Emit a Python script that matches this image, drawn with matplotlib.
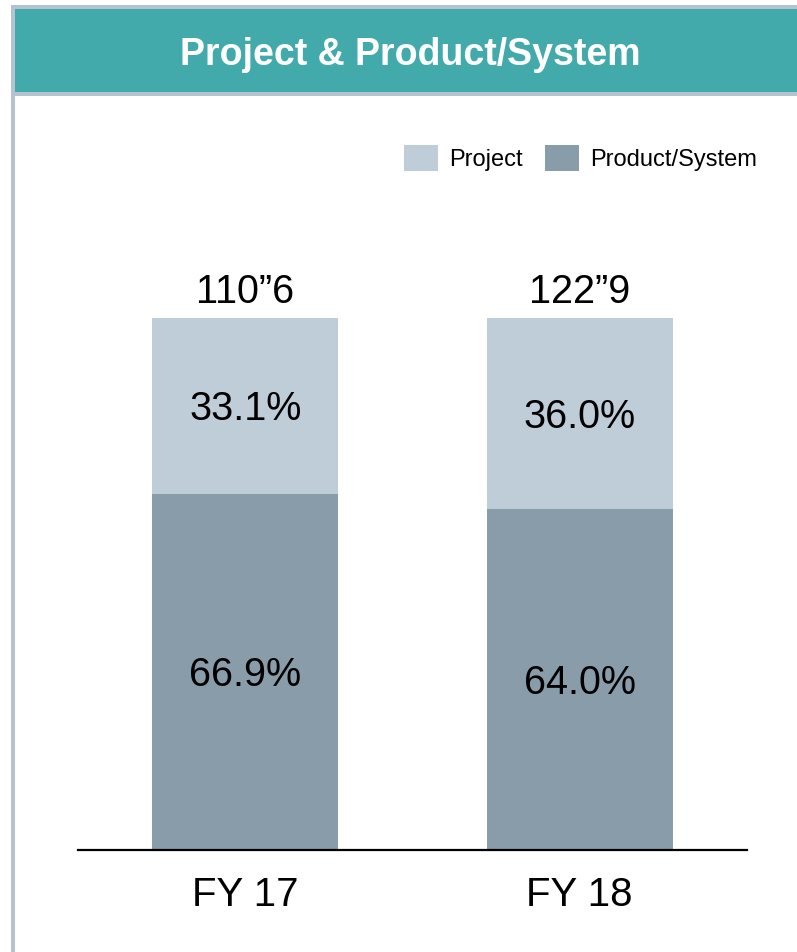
import matplotlib
matplotlib.use("Agg")
import matplotlib.pyplot as plt
from matplotlib.patches import Rectangle, Patch

plt.rcParams['font.family'] = ['Liberation Sans', 'DejaVu Sans']

# ---- data ----
categories = ["FY 17", "FY 18"]
totals = ["110\u201d6", "122\u201d9"]
project_pct = [33.1, 36.0]
product_pct = [66.9, 64.0]
series_names = ["Project", "Product/System"]
title = "Project & Product/System"

# ---- style ----
W, H = 797, 952
DPI = 100
c_project = "#BFCDD8"
c_product = "#899CAA"
c_teal = "#42AAAA"
c_border = "#B4C3CF"

fig = plt.figure(figsize=(W / DPI, H / DPI), dpi=DPI)

def fx(px):
    return px / W

def fy(py):
    return 1 - py / H

# frame / header
fig.patches.append(Rectangle((fx(11), fy(96)), fx(797 - 11), (96 - 5) / H,
                             transform=fig.transFigure, facecolor=c_border, edgecolor='none', zorder=0))
fig.patches.append(Rectangle((fx(15), fy(92)), fx(797 - 15), (92 - 9) / H,
                             transform=fig.transFigure, facecolor=c_teal, edgecolor='none', zorder=1))
fig.patches.append(Rectangle((fx(11), 0), fx(4), fy(5),
                             transform=fig.transFigure, facecolor=c_border, edgecolor='none', zorder=1))
fig.text(fx(410), fy(65), title, color='white', fontsize=27, fontweight='bold',
         ha='center', va='baseline')

# axes
ax = fig.add_axes([fx(78), fy(850), fx(747 - 78), (850 - 317.5) / H])
x = list(range(len(categories)))
width = 0.555
ax.bar(x, product_pct, width=width, color=c_product, zorder=2)
ax.bar(x, project_pct, width=width, bottom=product_pct, color=c_project, zorder=2)
ax.set_xlim(-0.5, 1.5)
ax.set_ylim(0, 100)

for s in ['top', 'right', 'left']:
    ax.spines[s].set_visible(False)
ax.spines['bottom'].set_linewidth(1.6)
ax.spines['bottom'].set_zorder(3)
ax.set_yticks([])
ax.set_xticks(x)
ax.set_xticklabels(categories, fontsize=29)
ax.tick_params(axis='x', length=0, pad=19)

fs = 28.5
cap = 0.716 * fs
for i in x:
    top = product_pct[i] + project_pct[i]
    ax.annotate(totals[i], (i, top), xytext=(0, 10.4), textcoords='offset points',
                ha='center', va='baseline', fontsize=fs, annotation_clip=False)
    ax.annotate(f"{project_pct[i]:.1f}%", (i, product_pct[i] + project_pct[i] / 2),
                xytext=(0, -cap / 2), textcoords='offset points',
                ha='center', va='baseline', fontsize=fs)
    ax.annotate(f"{product_pct[i]:.1f}%", (i, product_pct[i] / 2),
                xytext=(0, -cap / 2), textcoords='offset points',
                ha='center', va='baseline', fontsize=fs)

handles = [Patch(facecolor=c_project, edgecolor='none', label=series_names[0]),
           Patch(facecolor=c_product, edgecolor='none', label=series_names[1])]
fig.legend(handles=handles, loc='center left', bbox_to_anchor=(fx(404), fy(158)),
           ncol=2, frameon=False, fontsize=17, handlelength=1.44, handleheight=1.3,
           handletextpad=0.47, columnspacing=0.93, borderpad=0, borderaxespad=0)

fig.savefig("out.png", dpi=DPI)
